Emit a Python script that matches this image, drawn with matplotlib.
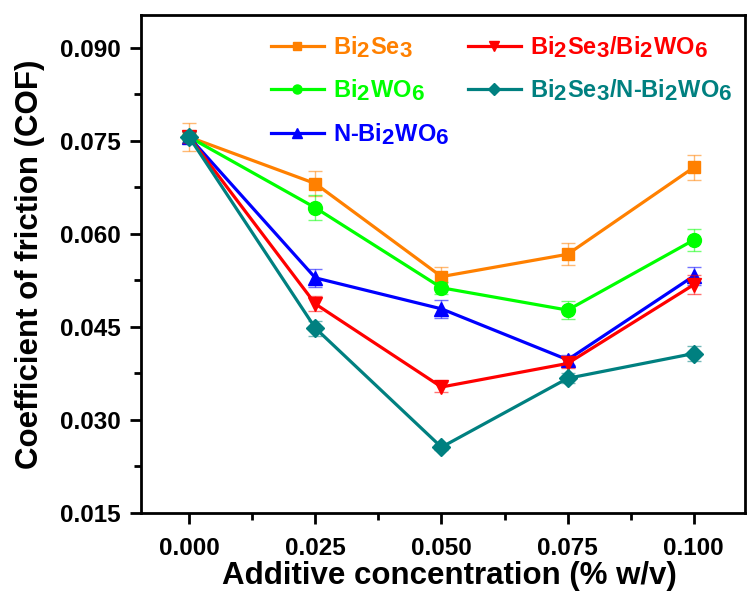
import matplotlib.pyplot as plt
import matplotlib._mathtext as mathtext_internal
from matplotlib.ticker import MultipleLocator, FormatStrFormatter

plt.rcParams['font.family'] = ['Liberation Sans', 'DejaVu Sans']
plt.rcParams['font.weight'] = 'bold'
plt.rcParams['mathtext.fontset'] = 'custom'
plt.rcParams['mathtext.rm'] = 'Liberation Sans:bold'
plt.rcParams['mathtext.bf'] = 'Liberation Sans:bold'
plt.rcParams['mathtext.it'] = 'Liberation Sans:bold'
plt.rcParams['mathtext.default'] = 'bf'
# subscripts in the original are nearly full size
mathtext_internal.SHRINK_FACTOR = 0.95

# additive concentration (% w/v)
conc = [0.000, 0.025, 0.050, 0.075, 0.100]

# coefficient of friction
cof_bi2se3 = [0.0756, 0.0681, 0.0531, 0.0567, 0.0707]
cof_bi2wo6 = [0.0756, 0.0642, 0.0513, 0.0477, 0.0590]
cof_nbi2wo6 = [0.0756, 0.0529, 0.0479, 0.0397, 0.0532]
cof_se_wo = [0.0756, 0.0487, 0.0353, 0.0391, 0.0518]
cof_se_nwo = [0.0756, 0.0448, 0.0256, 0.0367, 0.0407]

# error bars
err_bi2se3 = [0.0022, 0.0020, 0.0015, 0.0018, 0.0020]
err_bi2wo6 = [0.0010, 0.0020, 0.0010, 0.0014, 0.0018]
err_nbi2wo6 = [0.0010, 0.0015, 0.0015, 0.0008, 0.0015]
err_se_wo = [0.0010, 0.0012, 0.0008, 0.0008, 0.0015]
err_se_nwo = [0.0008, 0.0012, 0.0005, 0.0008, 0.0012]

labels = [r'Bi$_2$Se$_3$', r'Bi$_2$WO$_6$', r'N-Bi$_2$WO$_6$',
          r'Bi$_2$Se$_3$/Bi$_2$WO$_6$', r'Bi$_2$Se$_3$/N-Bi$_2$WO$_6$']
colors = ['#FF8000', '#00FF00', '#0000FF', '#FF0000', '#008080']
markers = ['s', 'o', '^', 'v', 'D']
msizes = [9, 10, 10, 10, 9]

series = [cof_bi2se3, cof_bi2wo6, cof_nbi2wo6, cof_se_wo, cof_se_nwo]
errors = [err_bi2se3, err_bi2wo6, err_nbi2wo6, err_se_wo, err_se_nwo]

fig = plt.figure(figsize=(7.47, 5.93), dpi=100)
ax = fig.add_axes([0.189, 0.135, 0.808, 0.840])

for y, e, c, m, ms, lab in zip(series, errors, colors, markers, msizes, labels):
    ax.errorbar(conc, y, yerr=e, fmt='none', ecolor=c, elinewidth=1.0,
                capsize=5, capthick=1.0, alpha=0.55)
    ax.plot(conc, y, color=c, marker=m, markersize=ms, linewidth=2.3, label=lab)

ax.set_xlim(-0.0095, 0.1101)
ax.set_ylim(0.015, 0.0953)
ax.xaxis.set_major_locator(MultipleLocator(0.025))
ax.xaxis.set_minor_locator(MultipleLocator(0.0125))
ax.yaxis.set_major_locator(MultipleLocator(0.015))
ax.yaxis.set_minor_locator(MultipleLocator(0.0075))
ax.xaxis.set_major_formatter(FormatStrFormatter('%.3f'))
ax.yaxis.set_major_formatter(FormatStrFormatter('%.3f'))

for s in ax.spines.values():
    s.set_linewidth(2)
ax.tick_params(which='both', direction='out', width=2, top=False, right=False)
ax.tick_params(which='major', length=8, labelsize=17.5, pad=5)
ax.tick_params(which='minor', length=5)
ax.tick_params(axis='x', which='major', pad=9)
ax.tick_params(axis='y', which='major', pad=7)

ax.set_xlabel('Additive concentration (% w/v)', fontsize=22.5, fontweight='bold')
ax.set_ylabel('Coefficient of friction (COF)', fontsize=22.5, fontweight='bold')
ax.xaxis.set_label_coords(0.51, -0.096)
ax.yaxis.set_label_coords(-0.16, 0.5)

leg = ax.legend(ncol=2, loc='upper left', bbox_to_anchor=(0.187, 0.995), frameon=False,
                fontsize=17, handlelength=2.25, columnspacing=0.75, markerscale=0.65,
                labelspacing=0.75, handletextpad=0.4, borderaxespad=0.3)
for txt, c in zip(leg.get_texts(), colors):
    txt.set_color(c)

fig.savefig('out.png', dpi=100)
